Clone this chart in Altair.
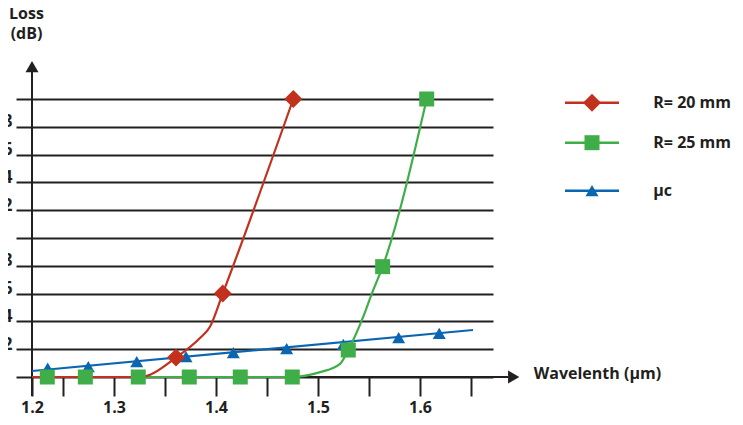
import altair as alt
import pandas as pd

# ---- data ----
names = ["R= 20 mm", "R= 25 mm", "μc"]
colors = ["#c1311e", "#3fae49", "#0a66b1"]
shapes = ["diamond", "square", "triangle-up"]
sizes = [324, 225, 169]

# markers
red_x = [1.3608, 1.4066, 1.4758]
red_y = [0.14, 0.60, 2.0]
green_x = [1.2346, 1.2719, 1.3238, 1.3738, 1.4238, 1.4748, 1.5297, 1.5634, 1.6066]
green_y = [0, 0, 0, 0, 0, 0, 0.194, 0.794, 2.0]
blue_x = [1.235, 1.2748, 1.3223, 1.3706, 1.4170, 1.4693, 1.5248, 1.5791, 1.6189]
blue_y = [0.063, 0.074, 0.110, 0.146, 0.175, 0.204, 0.235, 0.283, 0.314]

# drawn curves
red_curve_x = [1.2196, 1.3255, 1.3608, 1.3843, 1.3941, 1.4066, 1.4758]
red_curve_y = [0, 0, 0.14, 0.28, 0.362, 0.60, 2.0]
green_curve_x = [1.2346, 1.4748, 1.502, 1.5216, 1.5297, 1.5444, 1.5529, 1.5634, 1.6066]
green_curve_y = [0, 0, 0.035, 0.095, 0.194, 0.434, 0.602, 0.794, 2.0]
blue_curve_x = [1.2196, 1.652]
blue_curve_y = [0.043, 0.338]

x_domain = [1.2196, 1.6716]
y_domain = [0, 2.0]
x_ticks = [1.2196, 1.25, 1.3, 1.35, 1.4, 1.45, 1.5, 1.55, 1.6, 1.65]
y_ticks = [0, 0.2, 0.4, 0.6, 0.8, 1.0, 1.2, 1.4, 1.6, 1.8, 2.0]

# ---- style ----
INK = "#231f20"
FONT = "Open Sans"
W, H = 461, 278

markers = [pd.DataFrame({"x": red_x, "y": red_y}),
           pd.DataFrame({"x": green_x, "y": green_y}),
           pd.DataFrame({"x": blue_x, "y": blue_y})]
curves = [pd.DataFrame({"x": red_curve_x, "y": red_curve_y}),
          pd.DataFrame({"x": green_curve_x, "y": green_curve_y}),
          pd.DataFrame({"x": blue_curve_x, "y": blue_curve_y})]

x_axis = alt.Axis(
    values=x_ticks,
    labelExpr="(round(datum.value*100) % 10 == 5) ? '' : format(datum.value, '.1f')",
    domain=False, grid=False, ticks=True, tickSize=19, tickWidth=2, tickColor=INK,
    labelFont=FONT, labelFontSize=16, labelFontWeight="bold", labelColor=INK,
    labelPadding=16.5, labelBaseline="alphabetic", labelFlush=False, labelOverlap=False,
    title="Wavelenth (μm)", titleX=501.3, titleY=1.3, titleAlign="left",
    titleBaseline="alphabetic", titleFont=FONT, titleFontSize=16,
    titleFontWeight="bold", titleColor=INK,
)
y_axis = alt.Axis(
    values=y_ticks,
    labelExpr="(datum.value == 0 || datum.value == 1 || datum.value == 2) ? '' : format(datum.value, '.1f')",
    domain=False, grid=True, gridColor=INK, gridWidth=2, gridOpacity=1,
    ticks=True, tickSize=16, tickWidth=2, tickColor=INK,
    labelFont=FONT, labelFontSize=17, labelFontWeight="bold", labelColor=INK,
    labelPadding=4, labelBaseline="alphabetic", labelFlush=False, labelOverlap=False,
    title=["Loss", "(dB)"], titleAngle=0, titleX=-6, titleY=-80.5,
    titleAlign="center", titleBaseline="alphabetic", titleLineHeight=20,
    titleFont=FONT, titleFontSize=16, titleFontWeight="bold", titleColor=INK,
)

X = alt.X("x:Q", scale=alt.Scale(domain=x_domain, nice=False, zero=False), axis=x_axis)
Y = alt.Y("y:Q", scale=alt.Scale(domain=y_domain, nice=False, zero=False), axis=y_axis)

one = pd.DataFrame({"k": [0]})
layers = []

# axis lines with arrows
layers.append(alt.Chart(one).mark_rule(color=INK, strokeWidth=2).encode(
    x=alt.value(0), x2=alt.value(476), y=alt.value(H)))
layers.append(alt.Chart(one).mark_point(shape="triangle-right", filled=True, size=169,
                                        color=INK, opacity=1).encode(
    x=alt.value(481.7), y=alt.value(H)))
layers.append(alt.Chart(one).mark_rule(color=INK, strokeWidth=2).encode(
    x=alt.value(0), y=alt.value(-30), y2=alt.value(297)))
layers.append(alt.Chart(one).mark_point(shape="triangle-up", filled=True, size=169,
                                        color=INK, opacity=1).encode(
    x=alt.value(0), y=alt.value(-32.4)))

# curves (blue, green, red)
for i in [2, 1, 0]:
    layers.append(alt.Chart(curves[i]).mark_line(
        color=colors[i], strokeWidth=2.2, interpolate="monotone").encode(x=X, y=Y))
# markers
for i in [2, 1, 0]:
    layers.append(alt.Chart(markers[i]).mark_point(
        shape=shapes[i], size=sizes[i], filled=True, color=colors[i], opacity=1
    ).encode(x=X, y=Y))

# legend
row_y = [3.7, 43.7, 91.7]
for i in range(3):
    d = pd.DataFrame({"series": [names[i]]})
    layers.append(alt.Chart(d).mark_rule(color=colors[i], strokeWidth=2.5).encode(
        x=alt.value(533), x2=alt.value(587), y=alt.value(row_y[i])))
    layers.append(alt.Chart(d).mark_point(shape=shapes[i], size=sizes[i], filled=True,
                                          color=colors[i], opacity=1).encode(
        x=alt.value(560), y=alt.value(row_y[i])))
    layers.append(alt.Chart(d).mark_text(align="left", baseline="alphabetic", dy=5.6,
                                         font=FONT, fontSize=16, fontWeight="bold",
                                         color=INK).encode(
        x=alt.value(621.3), y=alt.value(row_y[i]), text="series:N"))

chart = alt.layer(*layers).properties(
    width=W, height=H,
    autosize=alt.AutoSizeParams(type="none"),
    padding={"left": 24, "top": 91, "right": 242, "bottom": 40},
).configure_view(stroke=None)

chart.save("out.html", embed_options={"renderer": "svg", "actions": False})
